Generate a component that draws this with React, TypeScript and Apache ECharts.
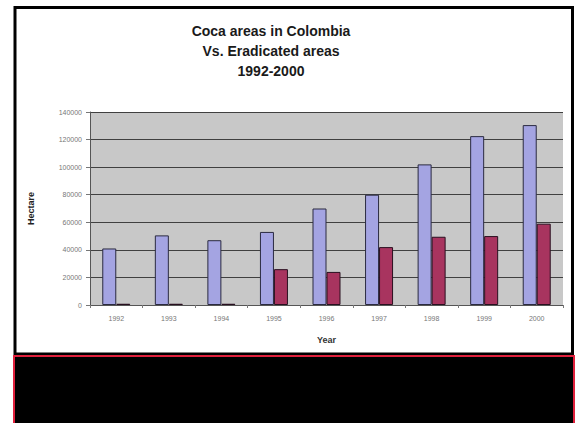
import React, { useEffect, useRef } from "react";
import * as echarts from "echarts";

const years = ["1992", "1993", "1994", "1995", "1996", "1997", "1998", "1999", "2000"];
const cocaAreas = [41000, 50500, 47000, 53000, 70000, 80000, 102000, 122500, 130500];
const eradicatedAreas = [900, 900, 900, 26000, 24000, 42000, 49500, 50000, 59000];
const titleLines = ["Coca areas in Colombia", "Vs. Eradicated areas", "1992-2000"];

export default function App() {
  const ref = useRef<HTMLDivElement>(null);
  useEffect(() => {
    if (!ref.current) return;
    const chart = echarts.init(ref.current, null, { renderer: "svg" });
    chart.setOption({
      animation: false,
      backgroundColor: "#ffffff",
      graphic: [
        { type: "rect", shape: { x: 15, y: 7.5, width: 557.5, height: 346.5 }, style: { fill: "#ffffff", stroke: "#000000", lineWidth: 3 }, z: -10 },
        { type: "rect", shape: { x: 14, y: 356, width: 560, height: 70 }, style: { fill: "#000000", stroke: "#e0203c", lineWidth: 2 }, z: -10 },
      ],
      title: {
        text: titleLines.join("\n"),
        left: 266,
        textAlign: "center",
        top: 16,
        textStyle: { fontFamily: "Liberation Sans", fontSize: 14, fontWeight: "bold", color: "#1a1a1a", lineHeight: 20 },
      },
      grid: { left: 90, right: 15, top: 112, bottom: 118, show: true, backgroundColor: "#c8c8c8", borderWidth: 0 },
      xAxis: {
        type: "category",
        data: years,
        name: "Year",
        nameLocation: "middle",
        nameGap: 30,
        nameTextStyle: { fontFamily: "Liberation Sans", fontSize: 9, fontWeight: "bold", color: "#333" },
        axisLine: { lineStyle: { color: "#555", width: 1 } },
        axisTick: { show: true, length: 3, lineStyle: { color: "#777" } },
        axisLabel: { fontFamily: "Liberation Sans", fontSize: 7, color: "#777", margin: 10 },
      },
      yAxis: {
        type: "value",
        min: 0,
        max: 140000,
        interval: 20000,
        name: "Hectare",
        nameLocation: "middle",
        nameGap: 55,
        nameTextStyle: { fontFamily: "Liberation Sans", fontSize: 9, fontWeight: "bold", color: "#222" },
        axisLine: { show: true, lineStyle: { color: "#555", width: 1 } },
        axisTick: { show: true, length: 4, lineStyle: { color: "#777" } },
        axisLabel: { fontFamily: "Liberation Sans", fontSize: 7, color: "#777", margin: 8, formatter: (v: number) => String(v) },
        splitLine: { show: true, lineStyle: { color: "#404040", width: 1 } },
      },
      series: [
        {
          name: "Coca areas",
          type: "bar",
          data: cocaAreas,
          barWidth: 14,
          barGap: "0%",
          itemStyle: { color: "#a4a4e2", borderColor: "#2a2a40", borderWidth: 1 },
        },
        {
          name: "Eradicated areas",
          type: "bar",
          data: eradicatedAreas,
          barWidth: 14,
          itemStyle: { color: "#a8345f", borderColor: "#2a1020", borderWidth: 1 },
        },
      ],
    });
    return () => chart.dispose();
  }, []);
  return <div ref={ref} style={{ position: "absolute", left: 0, top: 0, width: 578, height: 423 }} />;
}
